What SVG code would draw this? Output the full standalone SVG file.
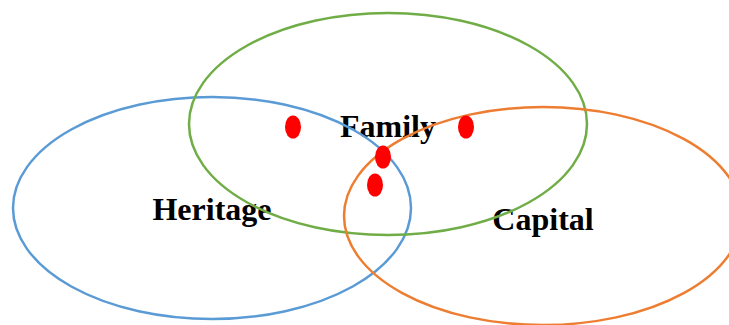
<svg xmlns="http://www.w3.org/2000/svg" width="729" height="325" viewBox="0 0 729 325">
<style>
.lbl{font-family:"Liberation Serif","Times New Roman",serif;font-weight:bold;font-size:32px;fill:#000;text-anchor:middle}
.set{fill:none;stroke-width:2.5}
.dot{fill:#FF0000}
</style>
<rect width="729" height="325" fill="#fff"/>
<g id="labels">
<text class="lbl" x="388" y="137">Family</text>
<text class="lbl" x="212" y="220">Heritage</text>
<text class="lbl" x="543" y="230">Capital</text>
</g>
<g id="heritage"><ellipse class="set" cx="212" cy="208" rx="199" ry="111" stroke="#5B9BD5"/></g>
<g id="family"><ellipse class="set" cx="388" cy="124" rx="199" ry="111" stroke="#70AD47"/></g>
<g id="capital"><ellipse class="set" cx="543" cy="216" rx="199" ry="109" stroke="#ED7D31"/></g>
<g id="dots">
<ellipse class="dot" cx="293" cy="127" rx="8" ry="11.5"/>
<ellipse class="dot" cx="466" cy="127" rx="8" ry="11.5"/>
<ellipse class="dot" cx="383" cy="157" rx="8" ry="11.5"/>
<ellipse class="dot" cx="375" cy="185" rx="8" ry="11.5"/>
</g>
</svg>
